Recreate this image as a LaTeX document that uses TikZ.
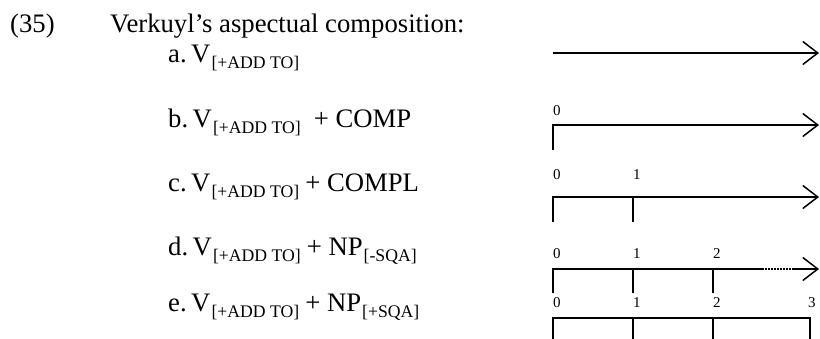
\documentclass[tikz,border=0pt]{standalone}
\usepackage{fontspec}
\setmainfont{Liberation Serif}
\usetikzlibrary{arrows.meta}
\newcommand\subx[1]{\kern1pt\raisebox{-6pt}{\fontsize{17.7}{20}\selectfont #1}}
\begin{document}
\begin{tikzpicture}[x=1pt,y=-1pt,
  ln/.style={line width=1.7pt},
  tipped/.style={ln,-{Straight Barb[length=15pt,width=23pt,line width=1.5pt]}},
  dots/.style={line width=1.4pt,dash pattern=on 1.5pt off 1.5pt},
  lbl/.style={font=\fontsize{26.7}{30}\selectfont,anchor=base west,inner sep=0pt},
  num/.style={font=\fontsize{15}{17}\selectfont,anchor=base west,inner sep=0pt}]
\useasboundingbox (0,0) rectangle (820,338);
% texts
\node[lbl] (ex) at (10,32) {(35)};
\node[lbl] (title) at (110,32) {Verkuyl’s aspectual composition:};
\node[lbl] (ta) at (168,62) {a.\kern4.5pt V\subx{[+ADD TO]}};
\node[lbl] (tb) at (168,127) {b.\kern4.5pt V\subx{[+ADD TO]}\hspace{13pt}+ COMP};
\node[lbl] (tc) at (168,191) {c.\kern4.5pt V\subx{[+ADD TO]}\hspace{6pt}+ COMPL};
\node[lbl] (td) at (168,255) {d.\kern4.5pt V\subx{[+ADD TO]}\hspace{6pt}+ NP\subx{[-SQA]}};
\node[lbl] (te) at (168,311) {e.\kern4.5pt V\subx{[+ADD TO]}\hspace{6pt}+ NP\subx{[+SQA]}};
% a
\coordinate (a0) at (553,53);
\coordinate (a9) at (819,53);
\draw[tipped] (a0) -- (a9);
% b
\coordinate (b0) at (553,125);
\coordinate (b0d) at (553,150);
\coordinate (b9) at (819,125);
\draw[tipped] (b0d) -- (b0) -- (b9);
\node[num] (nb0) at (553,115) {0};
% c
\coordinate (c0) at (553,197);
\coordinate (c0d) at (553,222);
\coordinate (c1) at (633,197);
\coordinate (c1d) at (633,222);
\coordinate (c9) at (819,197);
\draw[tipped] (c0d) -- (c0) -- (c9);
\draw[ln] (c1) -- (c1d);
\node[num] (nc0) at (553,179) {0};
\node[num] (nc1) at (633,179) {1};
% d
\coordinate (d0) at (553,269);
\coordinate (d0d) at (553,293);
\coordinate (d1) at (633,269);
\coordinate (d1d) at (633,293);
\coordinate (d2) at (713,269);
\coordinate (d2d) at (713,293);
\coordinate (dp) at (762,269);
\coordinate (dq) at (793,269);
\coordinate (d9) at (819,269);
\draw[ln] (d0d) -- (d0) -- (dp);
\draw[dots] (dp) -- (dq);
\draw[tipped] (dq) -- (d9);
\draw[ln] (d1) -- (d1d);
\draw[ln] (d2) -- (d2d);
\node[num] (nd0) at (553,258) {0};
\node[num] (nd1) at (633,258) {1};
\node[num] (nd2) at (713,258) {2};
% e
\coordinate (e0) at (553,318);
\coordinate (e0d) at (553,340);
\coordinate (e1) at (633,318);
\coordinate (e1d) at (633,340);
\coordinate (e2) at (713,318);
\coordinate (e2d) at (713,340);
\coordinate (e3) at (810,318);
\coordinate (e3d) at (810,340);
\draw[ln] (e0d) -- (e0) -- (e3) -- (e3d);
\draw[ln] (e1) -- (e1d);
\draw[ln] (e2) -- (e2d);
\node[num] (ne0) at (553,307) {0};
\node[num] (ne1) at (633,307) {1};
\node[num] (ne2) at (713,307) {2};
\node[num] (ne3) at (808,307) {3};
\end{tikzpicture}
\end{document}
